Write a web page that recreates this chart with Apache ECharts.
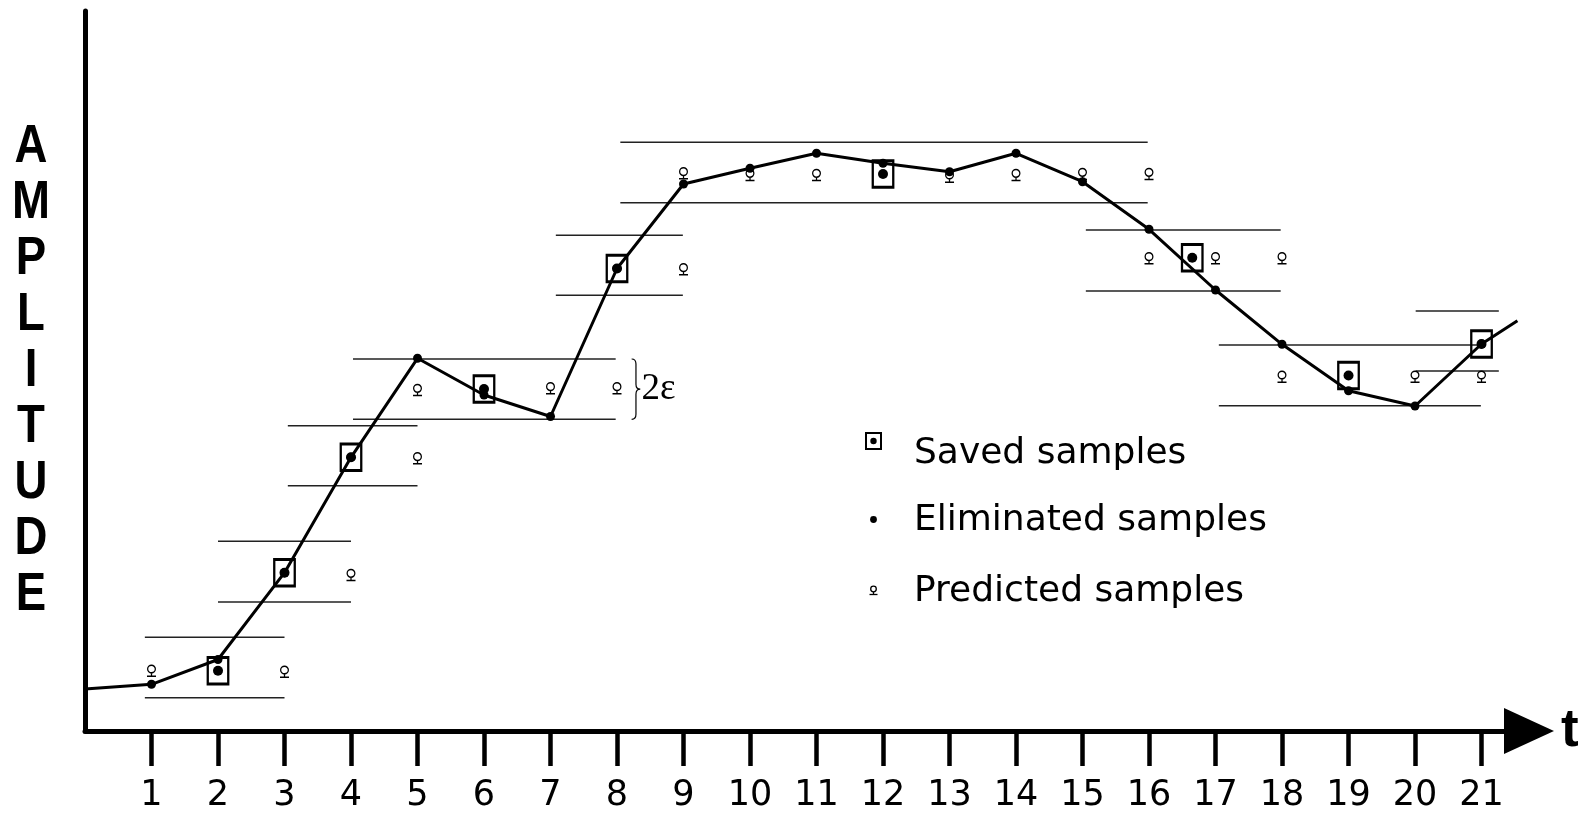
<!DOCTYPE html>
<html>
<head>
<meta charset="utf-8">
<script src="https://cdn.jsdelivr.net/npm/echarts@6/dist/echarts.min.js"></script>
<style>
html,body{margin:0;padding:0;background:#fff;}
#chart{width:1590px;height:813px;}
</style>
</head>
<body>
<div id="chart"></div>
<script>
// ---- data (t = sample index, amplitude in arbitrary units) ----
const tickLabels = [1,2,3,4,5,6,7,8,9,10,11,12,13,14,15,16,17,18,19,20,21];

const signalT   = [0, 1, 2, 3, 4, 5, 6, 7, 8, 9, 10, 11, 12, 13, 14, 15, 16, 17, 18, 19, 20, 21, 21.54];
const signalAmp = [4.2, 4.67, 7.15, 15.83, 27.37, 37.27, 33.6, 31.45, 46.25, 54.7, 56.27, 57.77, 56.77, 55.93, 57.77, 54.93, 50.17, 44.1, 38.67, 34.03, 32.5, 38.7, 41.03];

const savedT   = [2, 3, 4, 6, 8, 12, 16.65, 19, 21];
const savedAmp = [6.03, 15.83, 27.37, 34.2, 46.25, 55.7, 47.33, 35.55, 38.7];

const predT   = [1, 3, 4, 5, 5, 7, 8, 9, 9, 10, 11, 13, 14, 15, 16, 16, 17, 18, 18, 20, 21];
const predAmp = [6.03, 5.93, 15.6, 27.27, 34.1, 34.27, 34.27, 46.17, 55.77, 55.6, 55.6, 55.43, 55.6, 55.7, 55.7, 47.27, 47.27, 47.27, 35.43, 35.43, 35.43];

// tolerance bands (+/- epsilon)
const bandStart = [0.9, 2.0, 3.05, 4.03, 7.08, 8.05, 15.05, 17.05, 20.01];
const bandEnd   = [3.0, 4.0, 5.0, 7.98, 8.99, 15.98, 17.98, 20.99, 21.26];
const bandHigh  = [9.37, 18.97, 30.53, 37.2, 49.57, 58.87, 50.1, 38.6, 42.0];
const bandLow   = [3.33, 12.9, 24.53, 31.17, 43.57, 52.83, 44.0, 32.53, 36.0];

const legendLabels = ['Saved samples', 'Eliminated samples', 'Predicted samples'];
const epsLabel = '2\u03B5';
const yName = 'AMPLITUDE';
const xName = 't';

// ---- build ----
const chart = echarts.init(document.getElementById('chart'), null, {renderer: 'canvas'});

const lineData = signalT.map((t, i) => ({
  value: [t, signalAmp[i]],
  symbol: (Number.isInteger(t) && t > 0) ? 'circle' : 'none'
}));
const savedData = savedT.map((t, i) => [t, savedAmp[i]]);
const predData = predT.map((t, i) => [t, predAmp[i]]);
const bandData = bandStart.map((s, i) => [s, bandEnd[i], bandHigh[i], bandLow[i]]);

const predSymbol = 'path://M4.5,0.6 A3,3 0 1,1 4.49,0.6 Z M4.5,6.6 L4.5,8.6 M1,9.2 L8,9.2';
const boldFont = '"Liberation Sans",Arial,sans-serif';

const option = {
  animation: false,
  backgroundColor: '#fff',
  grid: {left: 85, right: 61, top: 11, bottom: 82, containLabel: false},
  xAxis: {
    type: 'value', min: 0, max: 21.714, interval: 1,
    name: xName, nameLocation: 'end', nameGap: 32,
    nameTextStyle: {fontFamily: boldFont, fontWeight: 'bold', fontSize: 53, color: '#000'},
    axisLine: {show: true, onZero: false, symbol: ['none', 'triangle'], symbolSize: [46, 50],
      lineStyle: {color: '#000', width: 5}},
    axisTick: {show: true, length: 35, customValues: tickLabels, lineStyle: {color: '#000', width: 4.5}},
    axisLabel: {show: true, customValues: tickLabels, margin: 47, fontFamily: '"DejaVu Sans"', fontSize: 35, color: '#000',
      formatter: v => (Number.isInteger(v) && v > 0) ? String(v) : ''},
    splitLine: {show: false}
  },
  yAxis: {
    type: 'value', min: 0, max: 72,
    axisLine: {show: true, onZero: false, lineStyle: {color: '#000', width: 5}},
    axisTick: {show: false}, axisLabel: {show: false}, splitLine: {show: false}
  },
  series: [
    {
      type: 'custom', name: 'bands', silent: true, z: 1,
      data: bandData,
      renderItem: function (params, api) {
        const a = api.coord([api.value(0), api.value(2)]);
        const b = api.coord([api.value(1), api.value(2)]);
        const c = api.coord([api.value(0), api.value(3)]);
        const d = api.coord([api.value(1), api.value(3)]);
        const st = {stroke: '#222', lineWidth: 1.5};
        return {type: 'group', children: [
          {type: 'line', shape: {x1: a[0], y1: a[1], x2: b[0], y2: b[1]}, style: st},
          {type: 'line', shape: {x1: c[0], y1: c[1], x2: d[0], y2: d[1]}, style: st}
        ]};
      }
    },
    {
      type: 'custom', name: 'epsilon', silent: true, z: 1,
      data: [[8.22, 8.35, bandHigh[3], bandLow[3], 8.37]],
      renderItem: function (params, api) {
        const top = api.coord([api.value(0), api.value(2)]);
        const bot = api.coord([api.value(0), api.value(3)]);
        const right = api.coord([api.value(1), api.value(2)]);
        const tx = api.coord([api.value(4), (api.value(2) + api.value(3)) / 2]);
        const x0 = top[0], x1 = right[0], yt = top[1], yb = bot[1], ym = (yt + yb) / 2;
        const xm = (x0 + x1) / 2, r = 5;
        const p = 'M' + x0 + ' ' + yt + ' Q' + xm + ' ' + yt + ' ' + xm + ' ' + (yt + r) +
          ' L' + xm + ' ' + (ym - r) + ' Q' + xm + ' ' + ym + ' ' + x1 + ' ' + ym +
          ' Q' + xm + ' ' + ym + ' ' + xm + ' ' + (ym + r) + ' L' + xm + ' ' + (yb - r) +
          ' Q' + xm + ' ' + yb + ' ' + x0 + ' ' + yb;
        return {type: 'group', children: [
          {type: 'path', shape: {pathData: p}, style: {fill: 'none', stroke: '#000', lineWidth: 1.2}},
          {type: 'text', x: tx[0], y: tx[1], style: {text: epsLabel, fontFamily: '"Liberation Serif","Times New Roman",serif', fontSize: 37, fill: '#000', align: 'left', verticalAlign: 'middle'}}
        ]};
      }
    },
    {
      type: 'line', name: legendLabels[1], z: 3, data: lineData,
      symbolSize: 9, itemStyle: {color: '#000', opacity: 1},
      lineStyle: {color: '#000', width: 3}, silent: true, clip: false
    },
    {
      type: 'scatter', name: legendLabels[0] + ' box', z: 4, data: savedData,
      symbol: 'rect', symbolSize: [20.5, 26.5], silent: true,
      itemStyle: {color: 'rgba(0,0,0,0)', borderColor: '#000', borderWidth: 2.6, opacity: 1}
    },
    {
      type: 'scatter', name: legendLabels[0], z: 5, data: savedData,
      symbol: 'circle', symbolSize: 10, silent: true, itemStyle: {color: '#000', opacity: 1}
    },
    {
      type: 'scatter', name: legendLabels[2], z: 5, data: predData,
      symbol: predSymbol, symbolSize: [9, 11], silent: true,
      itemStyle: {color: 'rgba(0,0,0,0)', borderColor: '#000', borderWidth: 1.4, opacity: 1}
    }
  ],
  graphic: [
    {type: 'text', silent: true, x: 31, y: 371, scaleX: 0.86,
      style: {text: yName.split('').join('\n'), fontFamily: boldFont, fontWeight: 'bold', fontSize: 53, lineHeight: 56,
        fill: '#000', align: 'center', verticalAlign: 'middle'}},
    {type: 'rect', silent: true, shape: {x: 866, y: 433, width: 15, height: 16}, style: {fill: 'none', stroke: '#000', lineWidth: 2}},
    {type: 'circle', silent: true, shape: {cx: 873.5, cy: 441, r: 3.2}, style: {fill: '#000'}},
    {type: 'text', silent: true, x: 914, y: 454, style: {text: legendLabels[0], fontFamily: '"DejaVu Sans"', fontSize: 36, fill: '#000', verticalAlign: 'middle'}},
    {type: 'circle', silent: true, shape: {cx: 873.5, cy: 519.5, r: 3.4}, style: {fill: '#000'}},
    {type: 'text', silent: true, x: 914, y: 521, style: {text: legendLabels[1], fontFamily: '"DejaVu Sans"', fontSize: 36, fill: '#000', verticalAlign: 'middle'}},
    {type: 'circle', silent: true, shape: {cx: 873.5, cy: 589, r: 2.8}, style: {fill: 'none', stroke: '#000', lineWidth: 1.3}},
    {type: 'line', silent: true, shape: {x1: 873.5, y1: 591.8, x2: 873.5, y2: 594}, style: {stroke: '#000', lineWidth: 1.3}},
    {type: 'line', silent: true, shape: {x1: 869.5, y1: 594.5, x2: 877.5, y2: 594.5}, style: {stroke: '#000', lineWidth: 1.3}},
    {type: 'text', silent: true, x: 914, y: 592, style: {text: legendLabels[2], fontFamily: '"DejaVu Sans"', fontSize: 36, fill: '#000', verticalAlign: 'middle'}}
  ]
};
chart.setOption(option);
</script>
</body>
</html>
